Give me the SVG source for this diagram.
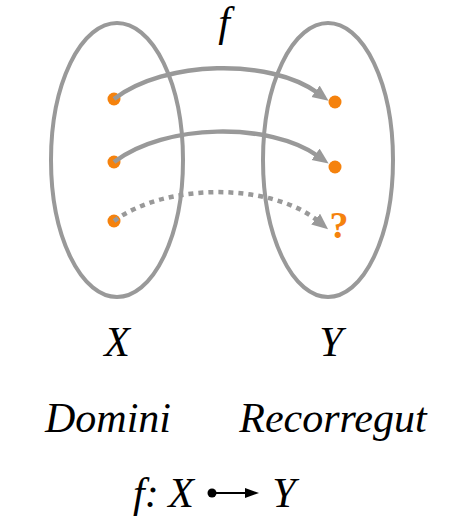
<svg xmlns="http://www.w3.org/2000/svg" width="457" height="525" viewBox="0 0 457 525">
<style>
.set{fill:none;stroke:#999;stroke-width:4}
.dot{fill:#f5820d}
.con{fill:none;stroke:#999;stroke-width:4.5}
.dash{stroke-dasharray:5 5}
.mt{font-family:"Liberation Serif","Times New Roman",serif;font-style:italic;fill:#000}
</style>
<defs>
<marker id="ah" markerUnits="userSpaceOnUse" markerWidth="18" markerHeight="16" refX="3" refY="7" orient="auto">
<path d="M0,0 L16,7 L0,14 z" fill="#999"/>
</marker>
<marker id="ahk" markerUnits="userSpaceOnUse" markerWidth="16" markerHeight="14" refX="2" refY="5" orient="auto">
<path d="M0,0 L14,5 L0,10 z" fill="#000"/>
</marker>
</defs>
<g id="domain">
<ellipse class="set" cx="117" cy="160" rx="66" ry="137"/>
<circle class="dot" cx="114" cy="99" r="6.5"/>
<circle class="dot" cx="114" cy="162" r="6.5"/>
<circle class="dot" cx="114" cy="221" r="6.5"/>
</g>
<g id="codomain">
<ellipse class="set" cx="328" cy="160" rx="65" ry="137"/>
<circle class="dot" cx="335" cy="102" r="6.5"/>
<circle class="dot" cx="335" cy="167" r="6.5"/>
<text x="339" y="238" text-anchor="middle" font-family="Liberation Serif,serif" font-weight="bold" font-size="38" fill="#f5820d">?</text>
</g>
<g id="connectors">
<path class="con" d="M114,99 C165,60 270,58 318,93" marker-end="url(#ah)"/>
<path class="con" d="M114,162 C165,123 270,122 318,156" marker-end="url(#ah)"/>
<path class="con dash" d="M114,221 C165,183 270,182 318,221" marker-end="url(#ah)"/>
</g>
<g id="labels">
<text class="mt" x="224" y="36" text-anchor="middle" font-size="42">f</text>
<text class="mt" x="117" y="356" text-anchor="middle" font-size="42">X</text>
<text class="mt" x="331" y="356" text-anchor="middle" font-size="42">Y</text>
<text class="mt" x="108" y="432" text-anchor="middle" font-size="42">Domini</text>
<text class="mt" x="333" y="432" text-anchor="middle" font-size="42">Recorregut</text>
</g>
<g id="notation">
<text class="mt" x="133" y="507" font-size="42">f:</text>
<text class="mt" x="181" y="507" text-anchor="middle" font-size="42">X</text>
<circle cx="212" cy="493" r="4.5" fill="#000"/>
<line x1="212" y1="493" x2="247" y2="493" stroke="#000" stroke-width="2" marker-end="url(#ahk)"/>
<text class="mt" x="284" y="507" text-anchor="middle" font-size="42">Y</text>
</g>
</svg>
